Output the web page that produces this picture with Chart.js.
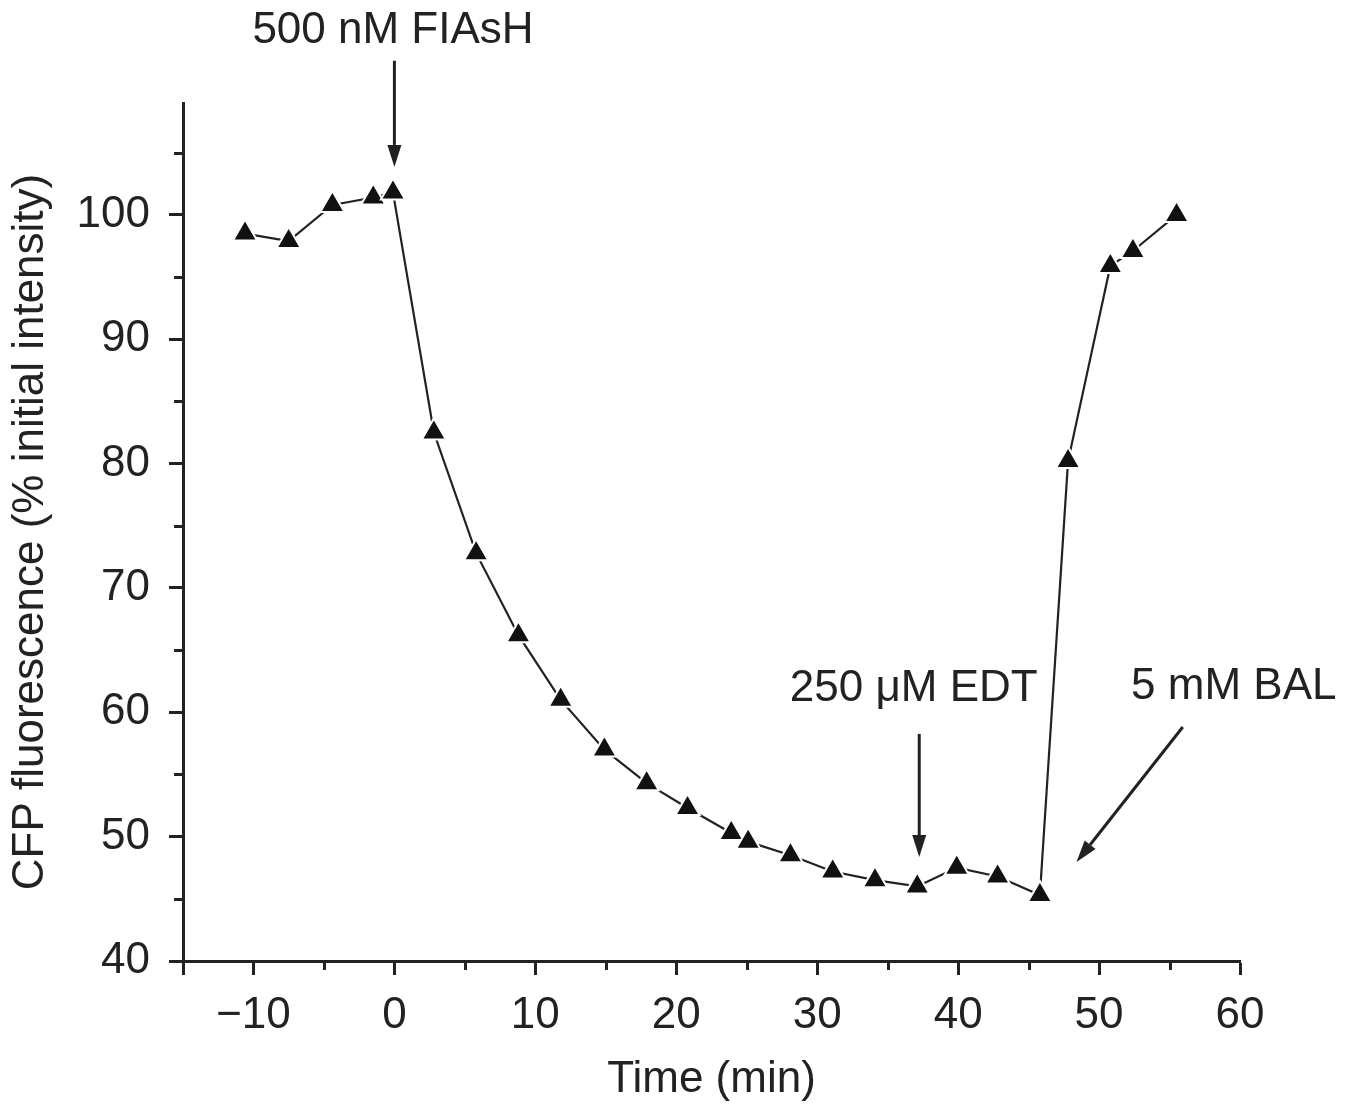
<!DOCTYPE html>
<html>
<head>
<meta charset="utf-8">
<script src="https://cdn.jsdelivr.net/npm/chart.js@4.4.0/dist/chart.umd.min.js"></script>
<style>
  html, body { margin: 0; padding: 0; background: #ffffff; }
  #wrap { width: 1355px; height: 1107px; }
</style>
</head>
<body>
<div id="wrap"><canvas id="c" width="1355" height="1107"></canvas></div>
<script>
// ---------------- data ----------------
const timeMin = [-10.6, -7.5, -4.4, -1.5, -0.1, 2.8, 5.8, 8.8, 11.8, 14.9, 17.9, 20.8, 23.9, 25.1, 28.1, 31.1, 34.1, 37.1, 39.9, 42.8, 45.8, 47.8, 50.8, 52.4, 55.5];
const cfpFluorescence = [98.5, 97.9, 100.8, 101.4, 101.8, 82.5, 72.8, 66.2, 61.0, 57.0, 54.3, 52.3, 50.3, 49.6, 48.5, 47.2, 46.5, 46.0, 47.5, 46.8, 45.3, 80.2, 95.9, 97.1, 100.0];

const xTickValues = [-10, 0, 10, 20, 30, 40, 50, 60];
const xTickLabels = ['\u221210', '0', '10', '20', '30', '40', '50', '60'];
const yTickValues = [40, 50, 60, 70, 80, 90, 100];
const yTickLabels = ['40', '50', '60', '70', '80', '90', '100'];

const xAxisTitle = 'Time (min)';
const yAxisTitle = 'CFP fluorescence (% initial intensity)';
const annotationTexts = ['500 nM FIAsH', '250 \u03bcM EDT', '5 mM BAL'];

// ---------------- styling / layout ----------------
const INK = '#222222';
const FONT_FAMILY = '"Liberation Sans", Arial, Helvetica, sans-serif';
const FS = 44;

// annotation placement in data coordinates
const annotationLayout = [
  { textX: -0.1,  textY: 113.83, from: [0, 112.4],      to: [0, 103.86] },
  { textX: 36.85, textY: 60.91,  from: [37.24, 58.26],  to: [37.24, 48.36] },
  { textX: 59.56, textY: 61.07,  from: [55.94, 58.82],  to: [48.40, 47.96] }
];

function isMajor(v, scale) {
  const r = Math.round(v * 1000) / 1000;
  return r % 10 === 0 || r === scale.min;
}
function isMinor(v, scale) {
  const r = Math.round(v * 1000) / 1000;
  return !isMajor(v, scale) && r % 5 === 0;
}

const MINOR_LEN = 9;

const decorPlugin = {
  id: 'decor',
  afterDraw(chart) {
    const ctx = chart.ctx;
    const xs = chart.scales.x, ys = chart.scales.y;
    ctx.save();
    // minor ticks
    ctx.strokeStyle = INK;
    ctx.lineWidth = 3;
    ctx.lineCap = 'butt';
    const bottom = chart.chartArea.bottom, left = chart.chartArea.left;
    xs.ticks.forEach(t => {
      if (isMinor(t.value, xs)) {
        const px = Math.round(xs.getPixelForValue(t.value)) + 0.5;
        ctx.beginPath(); ctx.moveTo(px, bottom); ctx.lineTo(px, bottom + MINOR_LEN); ctx.stroke();
      }
    });
    ys.ticks.forEach(t => {
      if (isMinor(t.value, ys)) {
        const py = Math.round(ys.getPixelForValue(t.value)) + 0.5;
        ctx.beginPath(); ctx.moveTo(left, py); ctx.lineTo(left - MINOR_LEN, py); ctx.stroke();
      }
    });

    // annotations
    ctx.fillStyle = INK;
    ctx.font = FS + 'px ' + FONT_FAMILY;
    ctx.textAlign = 'center';
    ctx.textBaseline = 'alphabetic';
    annotationLayout.forEach((a, i) => {
      ctx.fillText(annotationTexts[i], xs.getPixelForValue(a.textX), ys.getPixelForValue(a.textY));
      const x1 = xs.getPixelForValue(a.from[0]), y1 = ys.getPixelForValue(a.from[1]);
      const x2 = xs.getPixelForValue(a.to[0]),   y2 = ys.getPixelForValue(a.to[1]);
      const ang = Math.atan2(y2 - y1, x2 - x1);
      const headLen = 22, headHalf = 7;
      const bx = x2 - Math.cos(ang) * headLen, by = y2 - Math.sin(ang) * headLen;
      ctx.lineWidth = 3;
      ctx.beginPath(); ctx.moveTo(x1, y1); ctx.lineTo(bx, by); ctx.stroke();
      ctx.beginPath();
      ctx.moveTo(x2, y2);
      ctx.lineTo(bx + Math.sin(ang) * headHalf, by - Math.cos(ang) * headHalf);
      ctx.lineTo(bx - Math.sin(ang) * headHalf, by + Math.cos(ang) * headHalf);
      ctx.closePath();
      ctx.fill();
    });
    ctx.restore();
  }
};

const tickFont = { family: FONT_FAMILY, size: FS, lineHeight: 1 };

new Chart(document.getElementById('c'), {
  type: 'scatter',
  data: {
    datasets: [{
      data: timeMin.map((t, i) => ({ x: t, y: cfpFluorescence[i] })),
      showLine: true,
      tension: 0,
      borderColor: INK,
      borderWidth: 2.2,
      pointStyle: 'triangle',
      pointRadius: 14,
      pointHoverRadius: 14,
      pointBackgroundColor: '#111111',
      pointBorderColor: '#ffffff',
      pointBorderWidth: 2
    }]
  },
  options: {
    responsive: false,
    animation: false,
    devicePixelRatio: 1,
    layout: { padding: { top: 103, right: 115, left: 0, bottom: 0 } },
    plugins: { legend: { display: false }, tooltip: { enabled: false } },
    scales: {
      x: {
        type: 'linear',
        min: -15, max: 60,
        afterFit(scale) { scale.height = 146; },
        border: { display: true, color: INK, width: 3 },
        grid: {
          display: true, drawOnChartArea: false, drawTicks: true,
          tickLength: 14, tickWidth: 3,
          tickColor: (c) => isMajor(c.tick.value, c.scale) ? INK : 'rgba(0,0,0,0)'
        },
        ticks: {
          stepSize: 5, autoSkip: false, maxRotation: 0, padding: 19,
          color: INK, font: tickFont,
          callback: (v) => { const i = xTickValues.indexOf(Math.round(v * 1000) / 1000); return i >= 0 ? xTickLabels[i] : ''; }
        },
        title: {
          display: true, text: xAxisTitle, color: INK,
          font: { family: FONT_FAMILY, size: FS, lineHeight: 1 },
          padding: { top: 0, bottom: 5 }
        }
      },
      y: {
        type: 'linear',
        min: 40, max: 109,
        afterFit(scale) { scale.width = 183; },
        border: { display: true, color: INK, width: 3 },
        grid: {
          display: true, drawOnChartArea: false, drawTicks: true,
          tickLength: 14, tickWidth: 3,
          tickColor: (c) => (isMajor(c.tick.value, c.scale) && c.tick.value !== c.scale.max) ? INK : 'rgba(0,0,0,0)'
        },
        ticks: {
          stepSize: 5, autoSkip: false, padding: 19,
          color: INK, font: tickFont,
          callback: (v) => { const i = yTickValues.indexOf(Math.round(v * 1000) / 1000); return i >= 0 ? yTickLabels[i] : ''; }
        },
        title: {
          display: true, text: yAxisTitle, color: INK,
          font: { family: FONT_FAMILY, size: FS, lineHeight: 1 },
          padding: { top: 9, bottom: 0 }
        }
      }
    }
  },
  plugins: [decorPlugin]
});
</script>
</body>
</html>
